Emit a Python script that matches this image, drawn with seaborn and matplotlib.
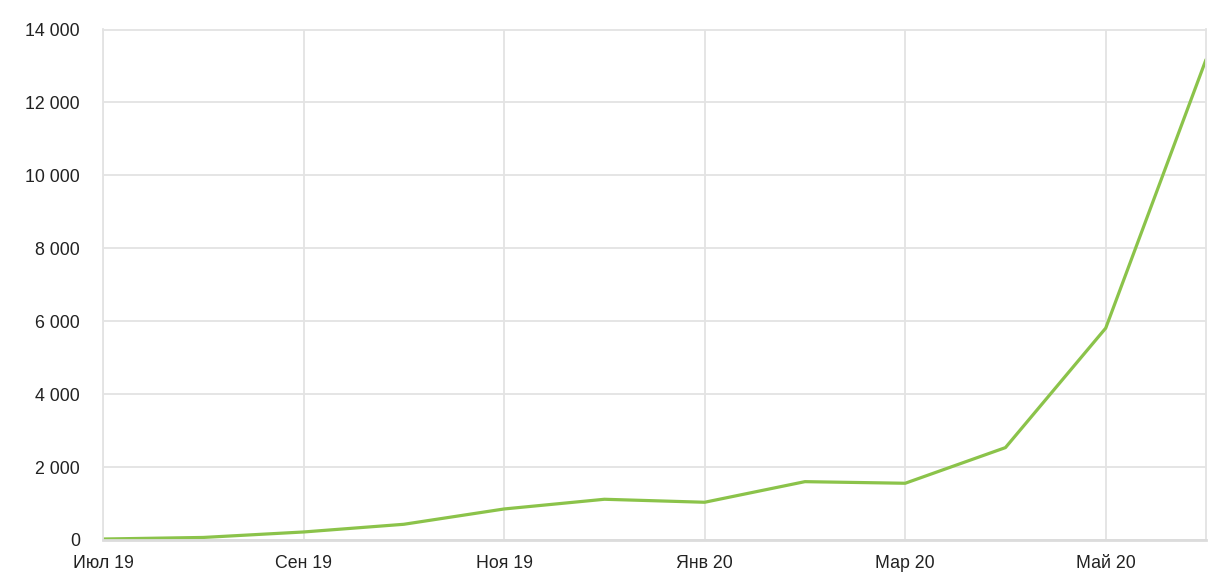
import matplotlib
matplotlib.use("Agg")
import matplotlib.pyplot as plt
import seaborn as sns
import pandas as pd
from matplotlib.ticker import FuncFormatter

months = ["Июл 19", "Авг 19", "Сен 19", "Окт 19", "Ноя 19", "Дек 19",
          "Янв 20", "Фев 20", "Мар 20", "Апр 20", "Май 20", "Июн 20"]
values = [27, 70, 220, 431, 851, 1117, 1035, 1600, 1556, 2534, 5811, 13175]
y_ticks = [0, 2000, 4000, 6000, 8000, 10000, 12000, 14000]

sns.set_theme(style="white")
plt.rcParams['font.family'] = ['Liberation Sans', 'DejaVu Sans']

df = pd.DataFrame({"month": months, "value": values})
df["pos"] = range(len(months))

fig = plt.figure(figsize=(12.27, 5.87), dpi=100)
ax = fig.add_axes([103/1227, 1-540/587, (1206-103)/1227, (540-29.5)/587])

sns.lineplot(data=df, x="pos", y="value", ax=ax, color="#8bc34a", linewidth=2.3)

ax.set_xlim(0, len(months) - 1)
ax.set_ylim(0, 14000)
ax.set_yticks(y_ticks)
ax.yaxis.set_major_formatter(FuncFormatter(lambda v, p: f"{int(v):,}".replace(",", " ")))
tick_pos = list(range(0, len(months), 2))
ax.set_xticks(tick_pos)
ax.set_xticklabels([months[i] for i in tick_pos])
ax.set_xlabel("")
ax.set_ylabel("")

ax.grid(True, color="#e3e3e3", linewidth=1.3)
ax.set_axisbelow(True)
for s in ax.spines.values():
    s.set_color("#e3e3e3")
    s.set_linewidth(1.3)
ax.spines["bottom"].set_color("#dcdcdc")
ax.spines["bottom"].set_linewidth(2)

ax.tick_params(axis="y", length=0, pad=16.5, labelsize=12.8, labelcolor="#222222")
ax.tick_params(axis="x", length=0, pad=20.5, labelsize=12.8, labelcolor="#222222")
for lbl in ax.get_xticklabels():
    lbl.set_verticalalignment("baseline")

fig.savefig("out.png", dpi=100, facecolor="white")
